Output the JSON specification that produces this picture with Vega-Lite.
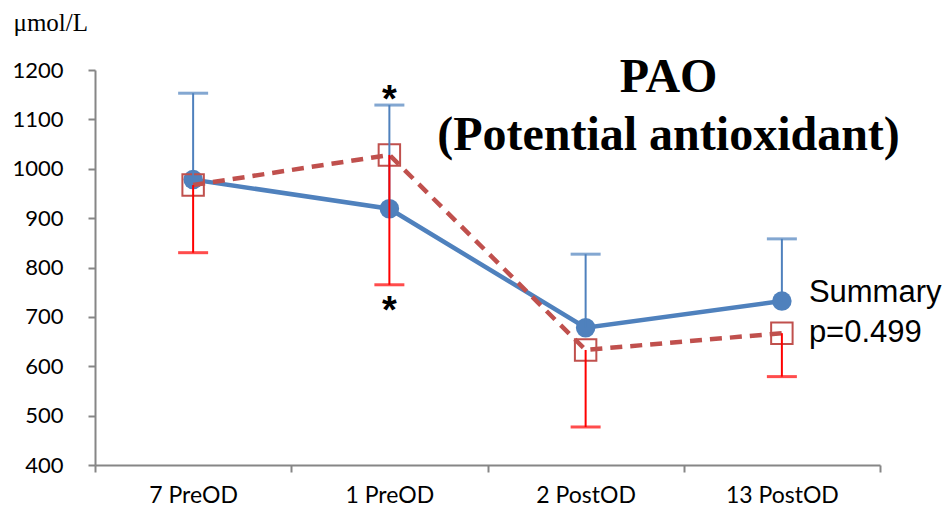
{
  "$schema": "https://vega.github.io/schema/vega-lite/v6.json",
  "width": 785,
  "height": 395,
  "autosize": "none",
  "padding": {"left": 95, "top": 70, "right": 71, "bottom": 48},
  "background": "white",
  "config": {"view": {"stroke": null}},
  "title": {
    "text": ["PAO", "(Potential antioxidant)"],
    "anchor": "end",
    "align": "center",
    "dx": -273,
    "offset": -150,
    "font": "Liberation Serif",
    "fontSize": 48,
    "fontWeight": "bold",
    "lineHeight": 58,
    "color": "black"
  },
  "datasets": {
    "pts": [
      {"cat": "7 PreOD", "series": "A", "mean": 978, "bar": 1153},
      {"cat": "1 PreOD", "series": "A", "mean": 919, "bar": 1129},
      {"cat": "2 PostOD", "series": "A", "mean": 678, "bar": 827},
      {"cat": "13 PostOD", "series": "A", "mean": 732, "bar": 858},
      {"cat": "7 PreOD", "series": "B", "mean": 967, "bar": 830},
      {"cat": "1 PreOD", "series": "B", "mean": 1028, "bar": 765},
      {"cat": "2 PostOD", "series": "B", "mean": 633, "bar": 477},
      {"cat": "13 PostOD", "series": "B", "mean": 667, "bar": 579}
    ],
    "notes": [
      {"cat": "1 PreOD", "v": 1138, "label": "*"},
      {"cat": "1 PreOD", "v": 710, "label": "*"}
    ],
    "legend": [
      {"cat": "13 PostOD", "v": 749, "label": "Summary"},
      {"cat": "13 PostOD", "v": 668, "label": "p=0.499"}
    ]
  },
  "encoding": {
    "x": {
      "field": "cat",
      "type": "nominal",
      "sort": ["7 PreOD", "1 PreOD", "2 PostOD", "13 PostOD"],
      "scale": {"paddingInner": 0, "paddingOuter": 0},
      "axis": {
        "title": null,
        "labelAngle": 0,
        "labelFont": "Lato",
        "labelFontSize": 23,
        "labelColor": "black",
        "labelPadding": 12,
        "tickBand": "extent",
        "tickSize": 7,
        "tickColor": "#868686",
        "tickWidth": 2,
        "domainColor": "#868686",
        "domainWidth": 2,
        "grid": false
      }
    }
  },
  "layer": [
    {
      "data": {"name": "pts"},
      "transform": [{"filter": "datum.series == 'A'"}],
      "mark": {"type": "line", "color": "#4f81bd", "strokeWidth": 4.5},
      "encoding": {
        "y": {
          "field": "mean",
          "type": "quantitative",
          "scale": {"domain": [400, 1200]},
          "axis": {
            "values": [400, 500, 600, 700, 800, 900, 1000, 1100, 1200],
            "format": "d",
            "title": "μmol/L",
            "titleAngle": 0,
            "titleX": -82,
            "titleY": -48,
            "titleAlign": "left",
            "titleBaseline": "middle",
            "titleFont": "Liberation Serif",
            "titleFontSize": 25,
            "titleFontWeight": "normal",
            "titleColor": "black",
            "labelFont": "Lato",
            "labelFontSize": 22,
            "labelColor": "black",
            "labelPadding": 25,
            "tickSize": 7,
            "tickColor": "#868686",
            "tickWidth": 2,
            "domainColor": "#868686",
            "domainWidth": 2,
            "grid": false
          }
        }
      }
    },
    {
      "data": {"name": "pts"},
      "transform": [{"filter": "datum.series == 'A'"}],
      "mark": {"type": "point", "shape": "circle", "filled": true, "color": "#4f81bd", "opacity": 1, "size": 380},
      "encoding": {"y": {"field": "mean", "type": "quantitative"}}
    },
    {
      "data": {"name": "pts"},
      "transform": [{"filter": "datum.series == 'B'"}],
      "mark": {"type": "line", "color": "#c0504d", "strokeWidth": 4.5, "strokeDash": [12, 8]},
      "encoding": {"y": {"field": "mean", "type": "quantitative"}}
    },
    {
      "data": {"name": "pts"},
      "transform": [{"filter": "datum.series == 'B'"}],
      "mark": {"type": "point", "shape": "square", "filled": false, "color": "#c0504d", "strokeWidth": 2, "opacity": 1, "size": 460},
      "encoding": {"y": {"field": "mean", "type": "quantitative"}}
    },
    {
      "data": {"name": "pts"},
      "mark": {"type": "rule", "strokeWidth": 2},
      "encoding": {
        "y": {"field": "mean", "type": "quantitative"},
        "y2": {"field": "bar"},
        "color": {"field": "series", "type": "nominal", "scale": {"domain": ["A", "B"], "range": ["#4f81bd", "#ff0000"]}, "legend": null}
      }
    },
    {
      "data": {"name": "pts"},
      "mark": {"type": "tick", "orient": "horizontal", "size": 30, "thickness": 3},
      "encoding": {
        "y": {"field": "bar", "type": "quantitative"},
        "color": {"field": "series", "type": "nominal", "legend": null}
      }
    },
    {
      "data": {"name": "notes"},
      "mark": {"type": "text", "font": "Liberation Sans", "fontSize": 38, "fontWeight": "bold", "color": "black", "baseline": "middle"},
      "encoding": {
        "y": {"field": "v", "type": "quantitative"},
        "text": {"field": "label"}
      }
    },
    {
      "data": {"name": "legend"},
      "mark": {"type": "text", "font": "Liberation Sans", "fontSize": 31, "color": "black", "align": "left", "baseline": "middle", "dx": 27},
      "encoding": {
        "y": {"field": "v", "type": "quantitative"},
        "text": {"field": "label"}
      }
    }
  ]
}
